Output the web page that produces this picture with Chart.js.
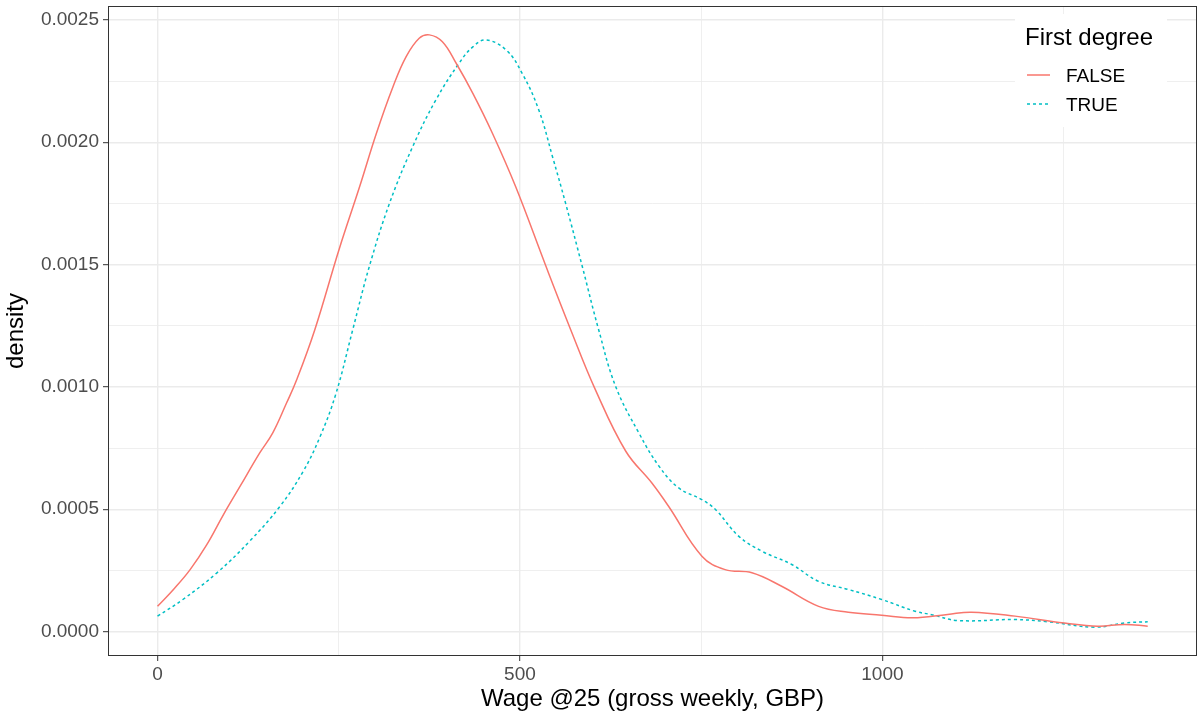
<!DOCTYPE html>
<html>
<head>
<meta charset="utf-8">
<script src="https://cdn.jsdelivr.net/npm/chart.js@4/dist/chart.umd.min.js"></script>
<style>
  html, body { margin: 0; padding: 0; background: #fff; }
  #wrap { width: 1198px; height: 715px; position: relative; }
</style>
</head>
<body>
<div id="wrap"><canvas id="densite"></canvas></div>
<script>
// Courbes de densité
const wageFalse = [0, 22, 45, 68, 91, 114, 141, 159, 178, 192, 217, 251, 279, 302, 325, 343, 361, 375, 393, 412, 435, 462, 494, 536, 570, 604, 646, 682, 705, 751, 783, 820, 861, 912, 953, 999, 1042, 1090, 1123, 1183, 1251, 1297, 1334, 1366];
const densityFalse = [0.000103, 0.000172, 0.000253, 0.000355, 0.000478, 0.000594, 0.00073, 0.000812, 0.000934, 0.001029, 0.001234, 0.001567, 0.00182, 0.002037, 0.002228, 0.00235, 0.002425, 0.002439, 0.002411, 0.002323, 0.0022, 0.002037, 0.001819, 0.001492, 0.001234, 0.000989, 0.000737, 0.000607, 0.000512, 0.000308, 0.000253, 0.00024, 0.000185, 0.000103, 0.000079, 0.000067, 0.000056, 0.00007, 0.000079, 0.000063, 0.000035, 0.000022, 0.000029, 0.000022];

const wageTrue = [0, 35, 82, 127, 169, 201, 224, 246, 269, 292, 320, 352, 384, 416, 435, 453, 481, 503, 526, 545, 563, 586, 608, 632, 664, 692, 719, 751, 770, 802, 834, 875, 912, 953, 999, 1045, 1068, 1104, 1183, 1228, 1293, 1334, 1366];
const densityTrue = [0.0000625, 0.000131, 0.00024, 0.000369, 0.000512, 0.000655, 0.000795, 0.000971, 0.00123, 0.00149, 0.00175, 0.001982, 0.002173, 0.002323, 0.00239, 0.002418, 0.002377, 0.002282, 0.002132, 0.00194, 0.00175, 0.001492, 0.00124, 0.001002, 0.000812, 0.000675, 0.000587, 0.000539, 0.000498, 0.000389, 0.000328, 0.000274, 0.000205, 0.000172, 0.000131, 0.000083, 0.000069, 0.000045, 0.000049, 0.00004, 0.000018, 0.000035, 0.00004];

const seriesLabels = ['FALSE', 'TRUE'];
const xTicks = [0, 250, 500, 750, 1000, 1250];
const yTicks = [0, 0.00025, 0.0005, 0.00075, 0.001, 0.00125, 0.0015, 0.00175, 0.002, 0.00225, 0.0025];

const ROUGE = '#F8766D';
const TURQUOISE = '#00BFC4';
const POLICE = "'Liberation Sans', Arial, Helvetica, sans-serif";

function points(xs, ys) {
    return xs.map((x, i) => ({ x: x, y: ys[i] }));
}

const estMajeurX = v => v % 500 === 0;
const estMajeurY = v => Math.round(v / 0.00025) % 2 === 0;

// Légende dessinée à la main (style ggplot, dans le panneau)
const legendePlugin = {
    id: 'legendeGg',
    afterDatasetsDraw(chart) {
        const ctx = chart.ctx;
        ctx.save();
        ctx.fillStyle = '#ffffff';
        ctx.fillRect(1015, 14, 152, 113);
        ctx.fillStyle = '#000000';
        ctx.textBaseline = 'alphabetic';
        ctx.textAlign = 'left';
        ctx.font = '24px ' + POLICE;
        ctx.fillText('First degree', 1025, 45);
        ctx.font = '19px ' + POLICE;
        const lignes = [
            { y: 75, couleur: ROUGE, dash: [], label: seriesLabels[0] },
            { y: 104, couleur: TURQUOISE, dash: [3, 3], label: seriesLabels[1] }
        ];
        lignes.forEach(l => {
            ctx.strokeStyle = l.couleur;
            ctx.lineWidth = 1.5;
            ctx.setLineDash(l.dash);
            ctx.beginPath();
            ctx.moveTo(1027, l.y);
            ctx.lineTo(1050, l.y);
            ctx.stroke();
            ctx.setLineDash([]);
            ctx.fillStyle = '#000000';
            ctx.fillText(l.label, 1066, l.y + 7);
        });
        ctx.restore();
    },
    afterDraw(chart) {
        const a = chart.chartArea;
        const ctx = chart.ctx;
        ctx.save();
        ctx.strokeStyle = '#333333';
        ctx.lineWidth = 1;
        ctx.strokeRect(Math.round(a.left) + 0.5, Math.round(a.top) + 0.5,
            Math.round(a.right - a.left) - 1, Math.round(a.bottom - a.top) - 1);
        ctx.restore();
    }
};

new Chart(document.getElementById('densite'), {
    type: 'line',
    data: {
        datasets: [
            {
                label: seriesLabels[0],
                data: points(wageFalse, densityFalse),
                borderColor: ROUGE,
                borderWidth: 1.5,
                pointRadius: 0,
                tension: 0.4,
                fill: false
            },
            {
                label: seriesLabels[1],
                data: points(wageTrue, densityTrue),
                borderColor: TURQUOISE,
                borderWidth: 1.5,
                borderDash: [3, 3],
                pointRadius: 0,
                tension: 0.4,
                fill: false
            }
        ]
    },
    options: {
        responsive: true,
        maintainAspectRatio: false,
        animation: false,
        layout: { padding: { top: 6, right: 1, bottom: 0, left: 0 } },
        plugins: {
            legend: { display: false },
            tooltip: { enabled: false }
        },
        scales: {
            x: {
                type: 'linear',
                min: -68.3,
                max: 1434,
                afterBuildTicks: s => { s.ticks = xTicks.map(v => ({ value: v })); },
                afterFit: s => { s.height = 59; s.paddingLeft = 0; s.paddingRight = 0; },
                border: { display: false },
                grid: {
                    color: '#ebebeb',
                    lineWidth: c => estMajeurX(c.tick.value) ? 1.4 : 0.8,
                    tickColor: c => estMajeurX(c.tick.value) ? '#333333' : 'rgba(0,0,0,0)',
                    tickLength: 5,
                    tickWidth: 1
                },
                ticks: {
                    color: '#4d4d4d',
                    font: { family: POLICE, size: 19 },
                    padding: 2,
                    maxRotation: 0,
                    autoSkip: false,
                    callback: v => estMajeurX(v) ? String(v) : ''
                },
                title: {
                    display: true,
                    text: 'Wage @25 (gross weekly, GBP)',
                    color: '#000000',
                    font: { family: POLICE, size: 24 },
                    padding: { top: 0, bottom: 1 }
                }
            },
            y: {
                type: 'linear',
                min: -0.0001,
                max: 0.002557,
                afterBuildTicks: s => { s.ticks = yTicks.map(v => ({ value: v })); },
                afterFit: s => { s.width = 108; s.paddingTop = 0; s.paddingBottom = 0; },
                border: { display: false },
                grid: {
                    color: '#ebebeb',
                    lineWidth: c => estMajeurY(c.tick.value) ? 1.4 : 0.8,
                    tickColor: c => estMajeurY(c.tick.value) ? '#333333' : 'rgba(0,0,0,0)',
                    tickLength: 5,
                    tickWidth: 1
                },
                ticks: {
                    color: '#4d4d4d',
                    font: { family: POLICE, size: 19 },
                    padding: 4,
                    autoSkip: false,
                    callback: v => estMajeurY(v) ? v.toFixed(4) : ''
                },
                title: {
                    display: true,
                    text: 'density',
                    color: '#000000',
                    font: { family: POLICE, size: 24 },
                    padding: { top: 2, bottom: 0 }
                }
            }
        }
    },
    plugins: [legendePlugin]
});
</script>
</body>
</html>
